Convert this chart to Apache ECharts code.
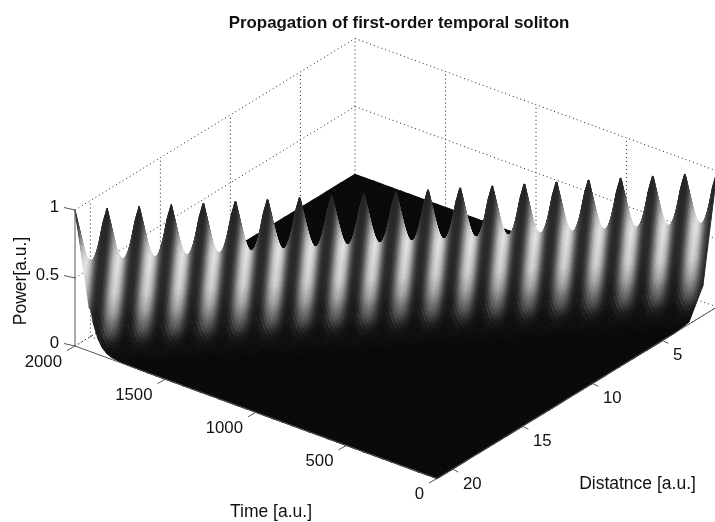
<!DOCTYPE html>
<html><head><meta charset="utf-8">
<style>html,body{margin:0;padding:0;background:#fff}#c{width:715px;height:522px}</style>
<script src="https://cdn.jsdelivr.net/npm/echarts@6/dist/echarts.min.js"></script>
</head><body><div id="c"></div>
<script>
// ---- data ----
const rowDistance = [21.1,20.1,19.1,18.1,17.1,16.1,15.1,14.1,13.1,12.1,11.1,10.1,9.1,8.1,7.1,6.1,5.1,4.1,3.1,2.1,1.1];
const ridgeTime   = [2000,1900,1800,1700,1600,1500,1400,1300,1200,1100,1000,900,800,700,600,500,400,300,200,100,0];
const pulseOffset = [-400,-300,-250,-200,-175,-150,-125,-100,-75,-50,-25,0,25,50,75,100,125,150,175,200,250,300,400];
const pulsePower  = [0,0,0.003,0.015,0.03,0.06,0.12,0.22,0.38,0.62,0.87,1,0.87,0.62,0.38,0.22,0.12,0.06,0.03,0.015,0.003,0,0];
const timeTicks = [0,500,1000,1500,2000];
const distanceTicks = [5,10,15,20];
const powerTicks = [0,0.5,1];
const timeRange = [0,2000];
const distanceRange = [1.1,21.1];
// shading: gray by distance from the dark streak, fade by height
const streakPx   = [0,3,6,9,12,16];
const streakGray = [42,48,82,142,198,230];
const fadeLevel  = [-0.12,-0.05,0,0.07,0.22,0.35,0.6,0.8,1];
const fadeGain   = [0,0.03,0.1,0.32,0.72,0.92,1,0.92,0.8];
const liftPower  = [0,0.01,0.03,0.05];
const liftGain   = [0,0.15,0.8,1];

// ---- view of the box ----
const W = 715, H = 522;
const cornerA = [437,478.5], cornerB = [75,346], cornerC = [717,307], powerPx = 136;
const streakLean = 0.1;

function lookup(xs, ys, x){
  if (x <= xs[0]) return ys[0];
  for (let i = 1; i < xs.length; i++) if (x <= xs[i]) {
    const f = (x-xs[i-1])/(xs[i]-xs[i-1]); return ys[i-1]+f*(ys[i]-ys[i-1]);
  }
  return ys[ys.length-1];
}
function project(t,z,p){
  const a = t/2000, b = (distanceRange[1]-z)/20;
  return [cornerA[0]+(cornerB[0]-cornerA[0])*a+(cornerC[0]-cornerA[0])*b,
          cornerA[1]+(cornerB[1]-cornerA[1])*a+(cornerC[1]-cornerA[1])*b-powerPx*p];
}
const firstPeak = project(ridgeTime[0],rowDistance[0],1);
const lastPeak = project(ridgeTime[20],rowDistance[20],1);
const peakStepX = (lastPeak[0]-firstPeak[0])/20, peakSlope = (lastPeak[1]-firstPeak[1])/(lastPeak[0]-firstPeak[0]);
function shade(x,y,p){
  const peakY = firstPeak[1]+peakSlope*(x-firstPeak[0]);
  const level = (peakY+powerPx-y)/powerPx;
  const along = x+streakLean*(y-peakY)-firstPeak[0];
  const m = ((along%peakStepX)+peakStepX)%peakStepX;
  const px = Math.min(m,peakStepX-m);
  const g = lookup(streakPx,streakGray,px);
  return 10+(g-10)*lookup(fadeLevel,fadeGain,level)*lookup(liftPower,liftGain,p);
}
function sample(t,rowF){
  const r = Math.min(Math.floor(rowF), rowDistance.length-2), f = rowF-r;
  const d0 = t-ridgeTime[r], d1 = t-ridgeTime[r+1];
  return {
    z: rowDistance[r]+f*(rowDistance[r+1]-rowDistance[r]),
    p: (1-f)*lookup(pulseOffset,pulsePower,d0)+f*lookup(pulseOffset,pulsePower,d1)
  };
}
// surface patches: flat floor first, then the ridge band far to near
const patches = [];
const floorGray = 'rgb(10,10,10)';
const floorLimit = 220;
for (let r = rowDistance.length-2; r >= 0; r--) {
  for (let t = 2000; t > 0; t -= 50) {
    const a = t-ridgeTime[r], b = t-ridgeTime[r+1], a2 = t-50-ridgeTime[r], b2 = t-50-ridgeTime[r+1];
    const low = v => Math.abs(v) >= floorLimit;
    if (low(a)&&low(b)&&low(a2)&&low(b2) && Math.sign(a)===Math.sign(a2) && Math.sign(b)===Math.sign(b2)) {
      patches.push({pts:[project(t,rowDistance[r],0),project(t-50,rowDistance[r],0),project(t-50,rowDistance[r+1],0),project(t,rowDistance[r+1],0)],fill:floorGray,w:1.4});
    }
  }
}
const stepT = 4, subRow = 12;
for (let i = (rowDistance.length-1)*subRow-1; i >= 0; i--) {
  const r0 = i/subRow, r1 = (i+1)/subRow;
  const r = Math.floor(r0);
  const tHi = Math.min(2000, ridgeTime[r]+270), tLo = Math.max(0, ridgeTime[r+1]-270);
  for (let t = tHi; t > tLo; t -= stepT) {
    const t2 = Math.max(tLo,t-stepT);
    const s = [sample(t,r1),sample(t2,r1),sample(t2,r0),sample(t,r0)];
    const ts = [t,t2,t2,t];
    const pts = s.map((v,k)=>project(ts[k],v.z,v.p));
    const cx = (pts[0][0]+pts[1][0]+pts[2][0]+pts[3][0])/4, cy = (pts[0][1]+pts[1][1]+pts[2][1]+pts[3][1])/4;
    const cp = (s[0].p+s[1].p+s[2].p+s[3].p)/4;
    const g = Math.round(shade(cx,cy,cp));
    patches.push({pts,fill:`rgb(${g},${g},${g})`,w:0.7});
  }
}

// box lines
const zMin = distanceRange[0], zMax = distanceRange[1];
const dotted = [];
powerTicks.forEach(p=>{
  dotted.push([project(2000,zMax,p),project(2000,zMin,p)]);
  dotted.push([project(2000,zMin,p),project(0,zMin,p)]);
});
timeTicks.forEach(t=>{
  dotted.push([project(t,zMin,0),project(t,zMin,1)]);
  dotted.push([project(t,zMin,0),project(t,zMax,0)]);
});
distanceTicks.forEach(z=>{
  dotted.push([project(2000,z,0),project(2000,z,1)]);
  dotted.push([project(2000,z,0),project(0,z,0)]);
});
const solid = [
  [project(2000,zMax,0),project(2000,zMax,1)],
  [project(2000,zMax,0),project(0,zMax,0)],
  [project(0,zMax,0),project(0,zMin,0)]
];
powerTicks.forEach(p=>{const a=project(2000,zMax,p);solid.push([a,[a[0]-11,a[1]-2.5]]);});
timeTicks.forEach(t=>{const a=project(t,zMax,0);solid.push([a,[a[0]-8,a[1]+4.5]]);});
distanceTicks.forEach(z=>{const a=project(0,z,0);solid.push([a,[a[0]+6,a[1]+3]]);});

const labels = [];
const addL=(x,y,text,extra)=>labels.push(Object.assign({x,y,text,size:16.8},extra||{}));
powerTicks.forEach(p=>{const a=project(2000,zMax,p);addL(a[0]-16,a[1]-3,String(p),{align:'right'});});
timeTicks.forEach(t=>{const a=project(t,zMax,0);addL(a[0]-13,a[1]+16,String(t),{align:'right'});});
distanceTicks.forEach(z=>{const a=project(0,z,0);addL(a[0]+10.5,a[1]+15,String(z),{align:'left'});});
addL(271,512,'Time [a.u.]',{align:'center',size:17.5});
addL(637.5,484,'Distatnce [a.u.]',{align:'center',size:17.5});
addL(21,281,'Power[a.u.]',{align:'center',rotation:Math.PI/2,size:17.5});

const textFont = 'Liberation Sans, Arial, sans-serif';
function lineSeries(list, style, z){
  return {type:'custom',coordinateSystem:'cartesian2d',clip:false,silent:true,z,animation:false,progressive:0,
    data:list.map((_,i)=>i),encode:{x:0,y:0},
    renderItem(params,api){
      const l=list[params.dataIndex];
      const a=api.coord(l[0]),b=api.coord(l[1]);
      return {type:'line',shape:{x1:a[0],y1:a[1],x2:b[0],y2:b[1]},style:Object.assign({fill:null},style)};
    }};
}
const chart = echarts.init(document.getElementById('c'),null,{renderer:'canvas'});
chart.setOption({
  animation:false,
  backgroundColor:'#fff',
  title:{text:'Propagation of first-order temporal soliton',left:394,top:10,textAlign:'center',
    textStyle:{fontFamily:textFont,fontSize:16.9,fontWeight:'bold',color:'#111'}},
  grid:{left:0,right:0,top:0,bottom:0},
  xAxis:{type:'value',min:0,max:W,show:false},
  yAxis:{type:'value',min:0,max:H,inverse:true,show:false},
  series:[
    lineSeries(dotted,{stroke:'#222',lineWidth:1,lineDash:[1,3]},1),
    {type:'custom',coordinateSystem:'cartesian2d',clip:false,silent:true,z:2,animation:false,progressive:0,
      data:patches.map((_,i)=>i),encode:{x:0,y:0},
      renderItem(params,api){
        const p=patches[params.dataIndex];
        return {type:'polygon',shape:{points:p.pts.map(q=>api.coord(q))},
          style:{fill:p.fill,stroke:p.fill,lineWidth:p.w}};
      }},
    lineSeries(solid,{stroke:'#555',lineWidth:1},3),
    {type:'custom',coordinateSystem:'cartesian2d',clip:false,silent:true,z:4,animation:false,progressive:0,
      data:labels.map((_,i)=>i),encode:{x:0,y:0},
      renderItem(params,api){
        const l=labels[params.dataIndex];
        const c=api.coord([l.x,l.y]);
        return {type:'text',x:c[0],y:c[1],rotation:l.rotation||0,
          style:{text:l.text,fill:'#111',font:l.size+'px '+textFont,textAlign:l.align,textVerticalAlign:'middle'}};
      }}
  ]
});
</script></body></html>
